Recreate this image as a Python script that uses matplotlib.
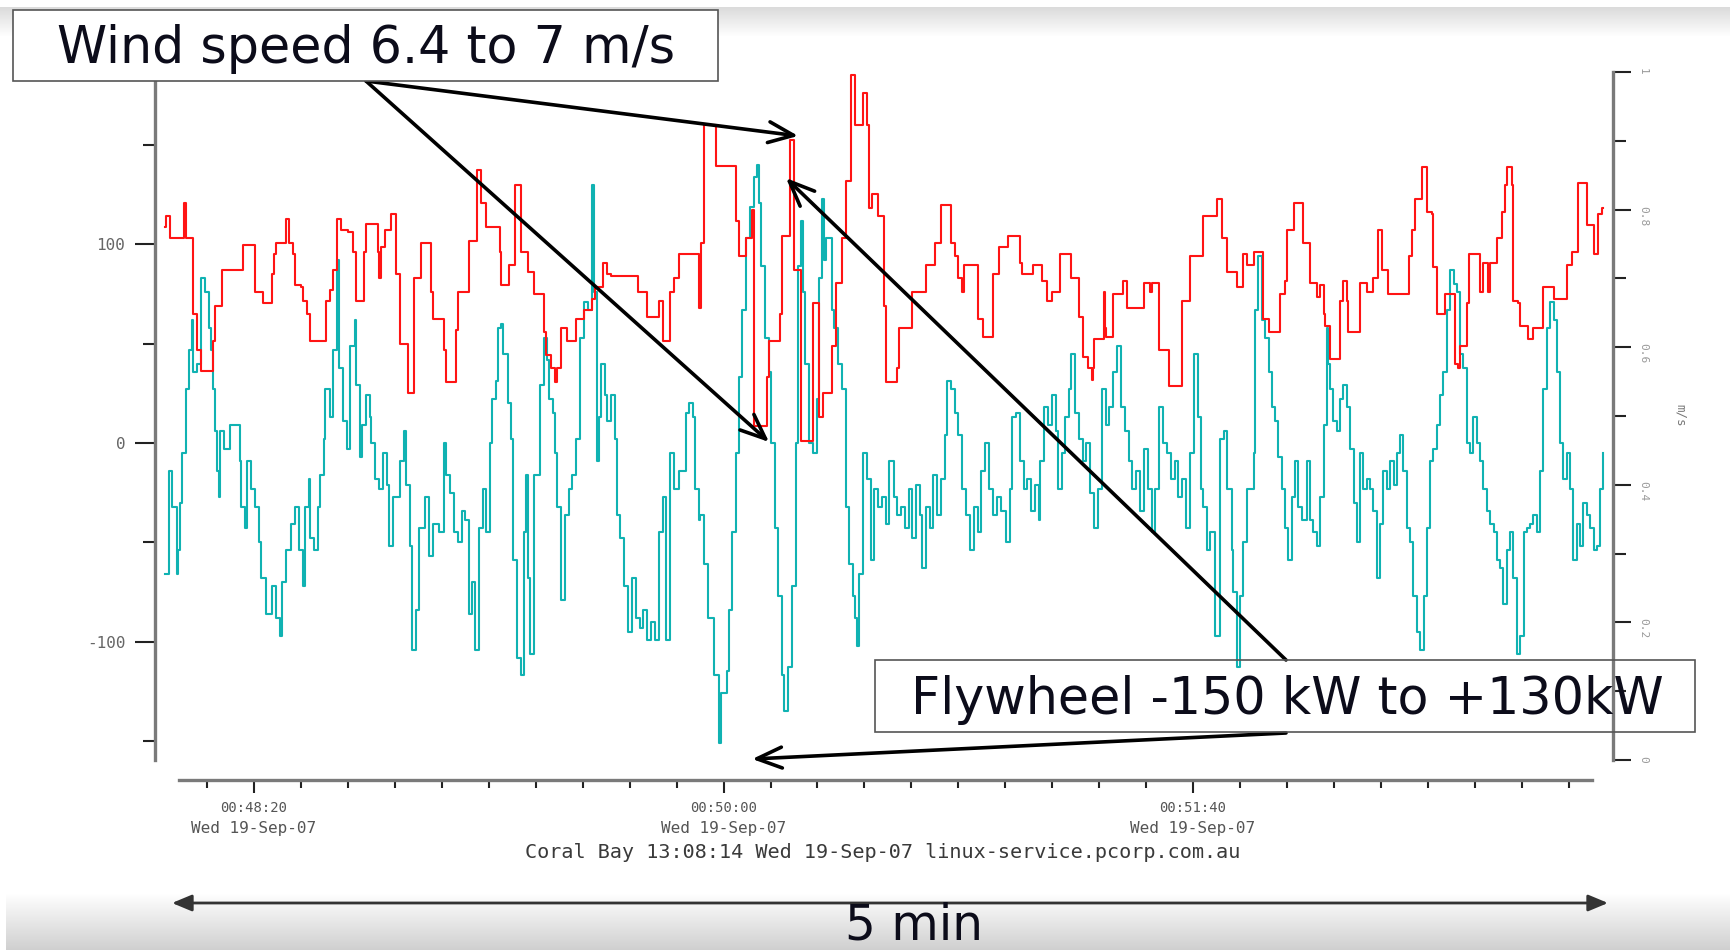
import numpy as np
import matplotlib
matplotlib.use("Agg")

import matplotlib.pyplot as plt
from matplotlib.patches import Rectangle, FancyArrowPatch
from matplotlib.transforms import blended_transform_factory

plt.rcParams['font.family'] = 'DejaVu Sans Mono'

# time in seconds after 00:48:00, flywheel power in kW (left axis)
fly_t = [1.0, 1.8, 2.6, 3.5, 3.9, 4.3, 4.7, 5.5, 6.2, 6.7, 7.1, 7.9, 8.8, 9.6, 10.4, 10.8, 11.2, 11.6, 12.0, 12.6,
         12.8, 13.6, 14.9, 16.9, 17.3, 18.1, 18.5, 19.4, 20.2, 21.0, 21.4, 22.6, 23.8, 24.7, 25.5, 25.9, 26.7, 27.9, 28.7, 29.5,
         30.4, 30.8, 31.6, 32.0, 32.8, 33.6, 34.0, 34.8, 35.2, 36.1, 36.9, 37.7, 38.1, 38.9, 39.7, 40.5, 41.4, 41.8, 42.6, 43.0,
         43.8, 44.6, 45.0, 45.8, 46.7, 47.5, 48.3, 48.7, 49.5, 51.1, 52.0, 52.4, 53.2, 53.7, 54.4, 55.2, 56.4, 57.3, 58.1, 59.3,
         60.5, 60.9, 61.7, 62.5, 63.4, 64.2, 65.0, 65.8, 66.5, 67.0, 67.9, 68.7, 69.5, 70.3, 70.7, 71.5, 71.9, 72.7, 73.1, 74.0,
         74.8, 75.2, 76.0, 76.8, 77.6, 78.0, 78.4, 78.8, 79.7, 80.9, 81.7, 82.3, 82.9, 83.7, 84.1, 84.6, 85.4, 86.2, 87.0, 87.8,
         88.6, 89.4, 90.3, 91.1, 91.9, 92.3, 93.1, 93.5, 93.9, 94.7, 95.2, 96.0, 96.8, 97.2, 98.0, 98.8, 99.6, 100.4, 101.3, 102.1,
         102.9, 103.7, 104.5, 105.3, 106.2, 107.0, 107.8, 108.6, 109.4, 110.6, 111.9, 112.7, 113.5, 113.9, 114.7, 115.0, 115.8, 116.6, 117.9, 119.1,
         119.5, 120.7, 121.1, 121.9, 122.7, 123.2, 124.0, 124.8, 125.6, 126.4, 127.2, 127.6, 128.0, 128.9, 129.7, 130.1, 130.9, 131.7, 132.5, 132.9,
         133.7, 134.6, 135.4, 135.8, 136.6, 137.0, 137.4, 138.2, 139.0, 139.9, 140.3, 140.9, 141.5, 141.9, 143.1, 143.5, 144.3, 145.2, 146.0, 146.8,
         147.6, 148.0, 148.4, 148.8, 149.6, 150.5, 151.3, 152.1, 152.9, 153.7, 154.5, 155.3, 156.2, 157.0, 157.8, 158.6, 159.4, 160.2, 161.0, 161.9,
         162.3, 163.1, 163.9, 164.7, 165.5, 166.3, 167.2, 167.6, 168.4, 169.2, 170.0, 170.8, 171.6, 172.5, 173.3, 174.1, 174.9, 175.7, 176.5, 177.3,
         178.2, 179.0, 180.2, 181.0, 181.4, 182.2, 183.1, 183.9, 184.7, 185.5, 186.3, 187.1, 187.5, 188.3, 189.2, 190.0, 190.8, 191.2, 192.0, 192.8,
         193.6, 194.1, 194.9, 195.7, 196.5, 197.3, 198.1, 198.9, 199.8, 200.6, 201.4, 202.2, 203.0, 203.8, 204.6, 205.5, 206.3, 207.1, 207.9, 208.7,
         209.5, 210.4, 211.2, 212.0, 212.8, 213.6, 214.4, 215.2, 216.1, 216.9, 217.7, 218.5, 219.3, 220.1, 221.0, 221.8, 222.2, 222.9, 223.6, 224.7,
         225.8, 226.5, 227.2, 228.2, 228.6, 229.3, 230.0, 230.7, 231.4, 232.9, 233.2, 233.9, 234.6, 235.3, 236.1, 236.8, 237.5, 238.2, 238.9, 239.6,
         240.3, 241.0, 241.7, 242.4, 243.2, 244.2, 244.9, 245.6, 246.4, 247.1, 247.8, 248.5, 248.8, 249.2, 249.9, 250.6, 251.3, 252.0, 252.7, 253.4,
         254.2, 254.9, 255.6, 256.3, 257.0, 257.7, 258.4, 259.1, 259.8, 260.5, 261.3, 262.0, 262.7, 263.4, 264.1, 264.8, 265.5, 266.2, 266.9, 267.6,
         268.4, 269.1, 269.8, 270.5, 271.2, 271.9, 272.6, 273.3, 274.0, 274.7, 275.5, 276.2, 276.9, 277.6, 278.3, 279.0, 279.7, 280.4, 281.1, 281.8,
         282.6, 283.3, 284.0, 284.7, 285.4, 286.1, 286.8, 287.5, 288.2, 289.0, 289.7, 290.4, 291.1, 291.8, 292.5, 293.2, 293.9, 294.6, 295.3, 296.0,
         296.8, 297.5, 298.2, 298.9, 299.6, 300.3, 301.0, 301.7, 302.4, 303.1, 303.9, 304.6, 305.3, 306.0, 306.7, 307.4]
fly_kw = [-66, -14, -32, -66, -54, -30, -5, 27, 47, 62, 36, 40, 83, 76, 58, 47, 27, 6, -14, -27,
          6, -3, 9, -9, -32, -43, -9, -23, -32, -50, -68, -86, -72, -88, -97, -70, -54, -41, -32, -54,
          -72, -32, -18, -48, -54, -32, -16, 2, 27, 13, 47, 92, 38, 11, -3, 49, 62, 29, -7, 9,
          24, 13, 0, -18, -23, -5, -21, -52, -27, -9, 6, -21, -52, -104, -84, -43, -27, -57, -41, -45,
          0, -16, -25, -45, -50, -34, -39, -86, -70, -104, -43, -23, -45, 0, 22, 31, 58, 60, 45, 20,
          2, -59, -108, -117, -45, -16, -68, -106, -16, 29, 53, 42, 22, 15, -5, -32, -79, -36, -23, -16,
          2, 53, 71, 67, 130, 76, -9, 13, 40, 24, 11, 24, 2, -36, -48, -72, -95, -68, -88, -93,
          -84, -99, -90, -99, -45, -27, -99, -5, -23, -14, 15, 20, 13, -23, -39, -36, -61, -88, -117, -151,
          -126, -115, -84, -45, -5, 33, 67, 103, 119, 134, 140, 121, 89, 53, 36, 0, -43, -77, -117, -135,
          -113, -72, 0, 89, 112, 76, 40, 0, -5, 22, 83, 123, 92, 103, 67, 58, 40, 27, -32, -61,
          -77, -88, -102, -66, -5, -18, -59, -23, -32, -27, -41, -9, -27, -36, -32, -43, -23, -48, -21, -36,
          -63, -32, -43, -16, -36, -18, 4, 31, 27, 15, 4, -23, -36, -54, -32, -45, -14, 0, -23, -36,
          -27, -34, -50, -23, 13, 15, -9, -23, -18, -34, -21, -39, -9, 18, 9, 24, 6, -23, -5, 13,
          27, 45, 15, 2, -9, 0, -25, -43, -23, 27, 9, 18, 36, 49, 18, 6, -9, -23, -14, -34,
          -3, -23, -45, -23, 18, 0, -5, -18, -9, -27, -18, -43, -5, 45, 13, -23, -32, -54, -45, -97,
          2, 6, -23, -54, -75, -113, -77, -50, -23, -5, 67, 94, 62, 53, 36, 18, 11, -7, -23, -43,
          -59, -27, -9, -32, -39, -9, -39, -45, -52, -27, 9, 58, 40, 27, 11, 6, 22, 29, 18, -3,
          -30, -50, -5, -23, -18, -23, -34, -68, -41, -14, -23, -9, -21, -5, 4, -14, -43, -50, -77, -95,
          -104, -77, -43, -9, -3, 9, 24, 36, 67, 87, 80, 76, 45, 38, 0, -5, 13, 0, -9, -23,
          -34, -41, -45, -59, -63, -81, -54, -45, -68, -106, -97, -45, -43, -41, -36, -45, -14, 27, 58, 71,
          62, 36, 0, -18, -5, -23, -59, -41, -52, -30, -36, -43, -54, -52, -23, -5]

# wind speed on the right hand m/s scale
wind_t = [1.0, 1.3, 2.2, 5.1, 5.5, 7.1, 7.9, 8.8, 11.2, 11.6, 13.2, 17.7, 20.2, 21.8, 23.8, 24.2, 24.7, 26.7, 27.5, 28.3,
          28.7, 30.0, 30.4, 31.2, 32.0, 35.3, 36.1, 36.9, 37.7, 38.5, 40.1, 41.0, 41.8, 43.4, 43.8, 46.3, 46.7, 47.0, 47.9, 49.1,
          50.3, 51.1, 52.8, 54.0, 55.6, 57.7, 58.1, 60.5, 60.9, 63.0, 63.4, 65.8, 67.4, 68.3, 69.5, 72.3, 72.7, 74.4, 75.6, 76.8,
          78.4, 79.7, 81.7, 82.1, 83.3, 84.1, 84.6, 85.4, 86.6, 88.6, 90.3, 91.9, 92.7, 94.3, 95.2, 96.0, 101.7, 103.7, 106.2, 107.0,
          108.6, 109.4, 110.6, 114.7, 115.1, 115.9, 118.3, 122.7, 123.2, 124.8, 126.0, 126.4, 129.3, 129.7, 132.1, 132.5, 134.2, 135.0, 136.6, 139.0,
          140.3, 141.1, 143.1, 143.9, 145.2, 146.0, 147.2, 148.0, 149.6, 150.5, 150.9, 151.7, 152.9, 154.1, 154.5, 157.0, 157.4, 160.2, 163.1, 165.1,
          166.3, 168.4, 169.2, 170.0, 170.8, 171.2, 174.1, 175.3, 177.3, 178.6, 180.6, 183.1, 183.5, 185.9, 187.9, 188.8, 190.0, 191.6, 194.1, 195.7,
          196.5, 197.7, 198.5, 198.7, 198.9, 201.0, 201.2, 201.4, 203.0, 205.1, 205.9, 209.5, 210.8, 211.2, 212.8, 214.8, 217.7, 219.3, 222.2, 225.1,
          226.1, 227.2, 229.3, 230.7, 231.4, 232.9, 235.0, 236.1, 238.5, 239.6, 240.0, 241.4, 243.5, 244.9, 246.4, 247.1, 247.8, 248.1, 249.2, 251.3,
          252.0, 252.7, 253.1, 255.6, 257.0, 258.4, 259.5, 260.2, 261.6, 265.9, 266.6, 267.3, 268.7, 269.8, 270.8, 271.2, 271.9, 273.7, 275.8, 276.5,
          276.9, 278.3, 278.7, 281.1, 281.8, 282.9, 283.3, 284.7, 285.8, 286.5, 286.8, 287.9, 288.2, 289.3, 289.7, 291.4, 292.5, 294.6, 296.8, 299.6,
          300.7, 302.1, 303.9, 305.3, 306.3, 307.1, 307.4]
wind_u = [0.774, 0.790, 0.758, 0.810, 0.758, 0.648, 0.596, 0.566, 0.609, 0.660, 0.712, 0.748, 0.680, 0.664, 0.706, 0.735, 0.751, 0.787, 0.751, 0.735,
          0.690, 0.687, 0.667, 0.648, 0.609, 0.667, 0.683, 0.712, 0.787, 0.771, 0.768, 0.738, 0.667, 0.738, 0.779, 0.738, 0.700, 0.745, 0.771, 0.794,
          0.706, 0.605, 0.534, 0.700, 0.751, 0.680, 0.641, 0.596, 0.550, 0.625, 0.680, 0.755, 0.858, 0.810, 0.774, 0.738, 0.690, 0.719, 0.836, 0.738,
          0.709, 0.677, 0.622, 0.589, 0.570, 0.550, 0.570, 0.628, 0.609, 0.641, 0.654, 0.670, 0.687, 0.722, 0.706, 0.703, 0.680, 0.644, 0.667, 0.609,
          0.680, 0.700, 0.735, 0.657, 0.751, 0.923, 0.864, 0.784, 0.732, 0.758, 0.800, 0.485, 0.557, 0.609, 0.648, 0.761, 0.901, 0.712, 0.463, 0.664,
          0.498, 0.534, 0.602, 0.693, 0.758, 0.842, 0.995, 0.923, 0.969, 0.923, 0.803, 0.823, 0.790, 0.660, 0.550, 0.570, 0.628, 0.680, 0.719, 0.751,
          0.806, 0.751, 0.732, 0.700, 0.680, 0.719, 0.641, 0.615, 0.706, 0.745, 0.761, 0.722, 0.706, 0.719, 0.696, 0.667, 0.680, 0.735, 0.700, 0.644,
          0.586, 0.570, 0.553, 0.570, 0.612, 0.680, 0.628, 0.615, 0.677, 0.696, 0.657, 0.693, 0.680, 0.693, 0.596, 0.544, 0.667, 0.732, 0.790, 0.816,
          0.758, 0.709, 0.687, 0.735, 0.719, 0.738, 0.641, 0.622, 0.677, 0.696, 0.771, 0.810, 0.751, 0.693, 0.673, 0.690, 0.648, 0.631, 0.583, 0.667,
          0.696, 0.667, 0.622, 0.693, 0.680, 0.700, 0.771, 0.712, 0.677, 0.732, 0.771, 0.816, 0.862, 0.797, 0.794, 0.716, 0.648, 0.677, 0.576, 0.570,
          0.602, 0.664, 0.735, 0.680, 0.722, 0.680, 0.722, 0.758, 0.797, 0.836, 0.862, 0.836, 0.667, 0.664, 0.631, 0.612, 0.628, 0.687, 0.670, 0.719,
          0.738, 0.839, 0.777, 0.735, 0.794, 0.803, 0.803]

kw_ticks = [-100, 0, 100]
kw_minor = [-150, -50, 50, 150]
ms_ticks = [0, 0.2, 0.4, 0.6, 0.8, 1]
ms_labels = ["0", "0.2", "0.4", "0.6", "0.8", "1"]
ms_minor = [0.1, 0.3, 0.5, 0.7, 0.9]
time_ticks = [20, 120, 220]
time_labels = ["00:48:20", "00:50:00", "00:51:40"]
date_label = "Wed 19-Sep-07"

W, H = 1731, 950


def fx(px):
    return px / W


def fy(py):
    return 1 - py / H


fig = plt.figure(figsize=(W / 100, H / 100), dpi=100)

# slide background: grey shading strips at the top and the bottom
bg = np.ones((H, W, 3))
bg[7:37, :, :] = np.linspace(0.86, 1.0, 30)[:, None, None]
bg[893:950, 6:, :] = np.linspace(1.0, 0.815, 57)[:, None, None]
bg_ax = fig.add_axes([0, 0, 1, 1], zorder=-10)
bg_ax.imshow(bg, aspect="auto", interpolation="bilinear")
bg_ax.axis("off")

ax = fig.add_axes([fx(155), fy(760), fx(1613) - fx(155), (760 - 72) / H])
ax.patch.set_visible(False)
ax.plot(fly_t, fly_kw, drawstyle="steps-post", color="#10b2b2", lw=1.5)
ax.set_xlim(-1.1, 309.45)
ax.set_ylim(-159.6, 186.8)

ax2 = ax.twinx()
ax2.plot(wind_t, wind_u, drawstyle="steps-post", color="#ff1414", lw=1.5)
ax2.set_ylim(0, 1)

# spines
spine_col = "#7a7a7a"
ax.spines["top"].set_visible(False)
ax.spines["right"].set_visible(False)
ax.spines["left"].set_color(spine_col)
ax.spines["left"].set_linewidth(2.4)
ax.spines["bottom"].set_position(("outward", 14.4))
ax.spines["bottom"].set_bounds(4, 305)
ax.spines["bottom"].set_color(spine_col)
ax.spines["bottom"].set_linewidth(2.4)
for s in ["top", "left", "bottom"]:
    ax2.spines[s].set_visible(False)
ax2.spines["right"].set_color(spine_col)
ax2.spines["right"].set_linewidth(2.4)

# left axis ticks
ax.set_yticks(kw_ticks, labels=[str(v) for v in kw_ticks])
ax.set_yticks(kw_minor, minor=True)
ax.tick_params(axis="y", which="major", length=14.4, width=1.5, color="#222222",
               pad=7, labelsize=11.5, labelcolor="#666666")
ax.tick_params(axis="y", which="minor", length=8.6, width=1.5, color="#222222")

# time axis
ax.set_xticks(time_ticks, labels=time_labels)
ax.set_xticks(range(10, 301, 10), minor=True)
ax.tick_params(axis="x", which="major", length=9.4, width=1.5, color="#222222",
               pad=5.5, labelsize=10, labelcolor="#555555")
ax.tick_params(axis="x", which="minor", length=5.8, width=1.5, color="#222222")
date_tr = blended_transform_factory(ax.transData, fig.transFigure)
for t in time_ticks:
    ax.text(t, fy(828), date_label, transform=date_tr, ha="center", va="center",
            fontsize=11.5, color="#555555")

# right axis ticks
ax2.set_yticks(ms_ticks, labels=ms_labels)
ax2.set_yticks(ms_minor, minor=True)
ax2.tick_params(axis="y", which="major", length=13, width=1.5, color="#222222",
                pad=5, labelsize=8, labelcolor="#999999", labelrotation=-90)
ax2.tick_params(axis="y", which="minor", length=9.4, width=1.5, color="#222222")

fig.text(fx(1680), fy(415), "m/s", rotation=-90, ha="center", va="center",
         fontsize=9, color="#777777")
fig.text(fx(883), fy(853), "Coral Bay 13:08:14 Wed 19-Sep-07 linux-service.pcorp.com.au",
         ha="center", va="center", fontsize=14.5, color="#3a3a3a")

# call-out boxes
big = dict(family="DejaVu Sans", fontsize=36.5, color="#0c0c1a", ha="center", va="baseline", zorder=6)
fig.add_artist(Rectangle((fx(13), fy(81)), (718 - 13) / W, (81 - 10) / H, transform=fig.transFigure,
                         facecolor="white", edgecolor="#555555", lw=1.2, zorder=5))
fig.text(fx(366), fy(63), "Wind speed 6.4 to 7 m/s", **big)
fig.add_artist(Rectangle((fx(875), fy(732)), (1695 - 875) / W, (732 - 660) / H, transform=fig.transFigure,
                         facecolor="none", edgecolor="#555555", lw=1.2, zorder=5))
fig.text(fx(1287), fy(714), "Flywheel -150 kW to +130kW", **big)

# pointer arrows (heads placed in flywheel-axis data units)
arrows = [
    ((135.9, 154.6), (366, 81)),
    ((129.7, 0.5), (366, 81)),
    ((133.3, 133.4), (1286, 660)),
    ((126.1, -159.1), (1286, 733)),
]
for head, tail in arrows:
    ax2.annotate("", xy=head, xycoords=ax.transData,
                 xytext=(fx(tail[0]), fy(tail[1])), textcoords="figure fraction",
                 arrowprops=dict(arrowstyle="->,head_length=0.6,head_width=0.25", lw=2.6,
                                 color="black", shrinkA=0, shrinkB=0, mutation_scale=30),
                 annotation_clip=False)

# 5 minute span arrow
fig.add_artist(FancyArrowPatch((fx(172), fy(903)), (fx(1608), fy(903)), transform=fig.transFigure,
                               arrowstyle="<|-|>,head_length=0.6,head_width=0.25", mutation_scale=20,
                               lw=2, color="#333333", shrinkA=0, shrinkB=0))
fig.text(fx(914), fy(940), "5 min", family="DejaVu Sans", fontsize=35, color="#0c0c1a",
         ha="center", va="baseline")

fig.savefig("out.png", dpi=100)
